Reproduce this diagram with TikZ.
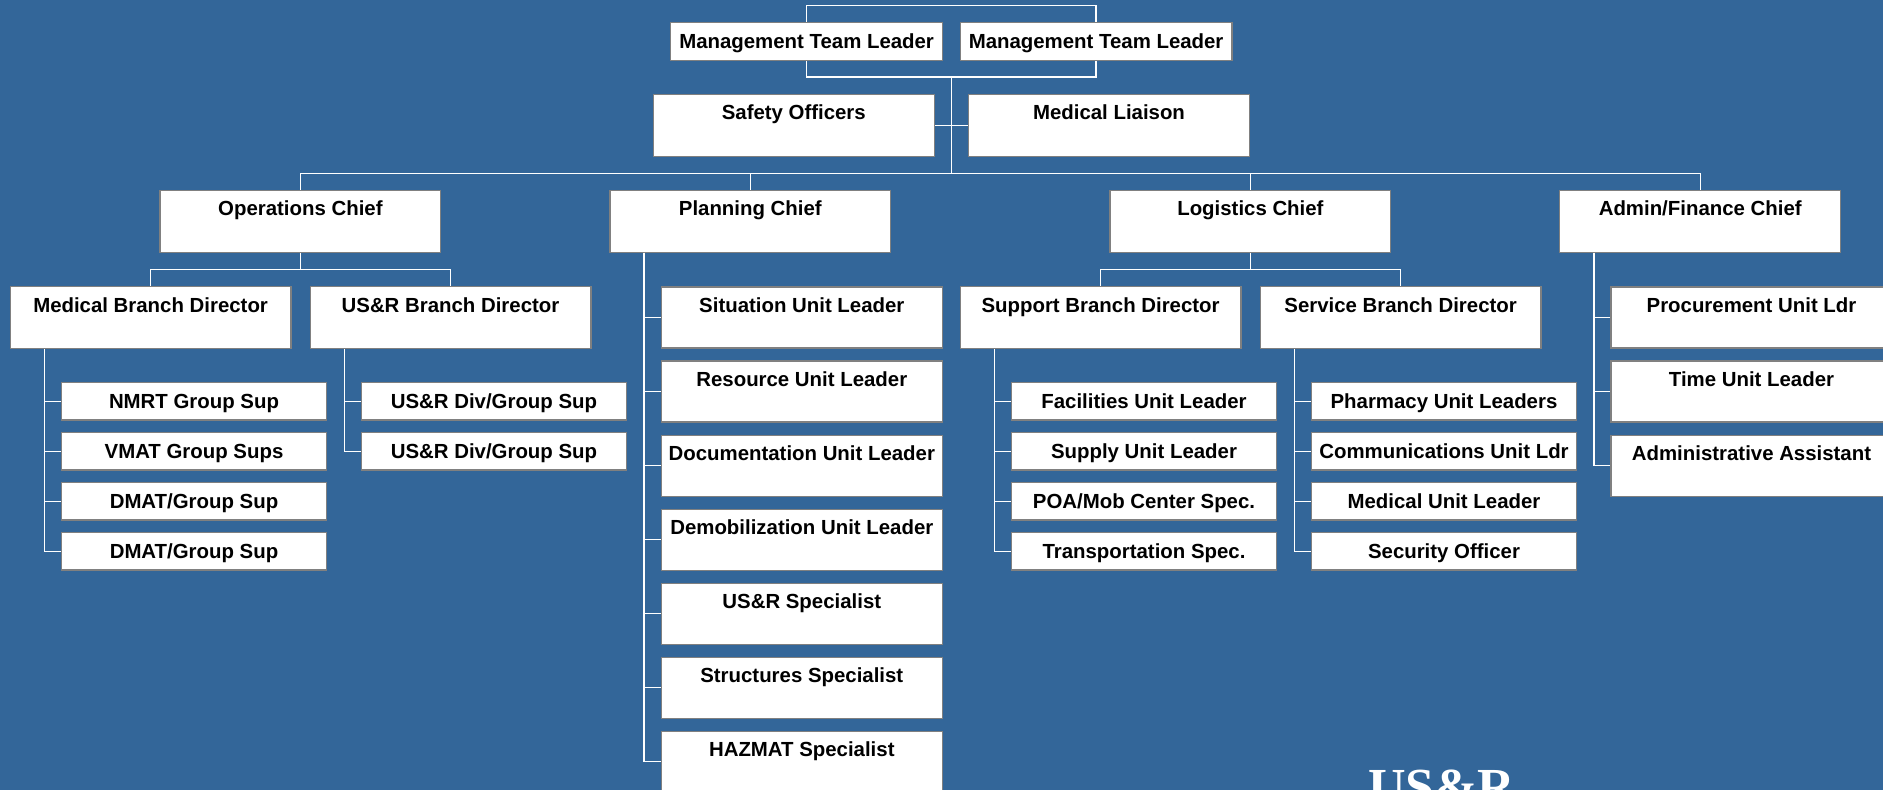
\documentclass[tikz,border=0pt]{standalone}
\usepackage{fontspec}
\setmainfont{Liberation Sans}
\newfontfamily\logofont{Liberation Serif}
\usepackage{tikz}
\definecolor{nen}{RGB}{51,102,153}
\definecolor{vien}{RGB}{128,128,128}
\tikzset{
  post/.style={draw=vien,fill=white,line width=1.2pt,inner sep=0pt,text height=25.6pt,
    font=\fontsize{20.4}{24}\selectfont\bfseries},
  leadbox/.style={post,minimum width=271.7pt,text depth=12pt},
  chiefbox/.style={post,minimum width=280.8pt,text depth=36.4pt},
  unitbox/.style={post,minimum width=265pt,text depth=11.9pt},
  staffbox/.style={post,minimum width=281pt,text depth=35.4pt},
  wire/.style={draw=white,line width=1.3pt}
}

\begin{document}
\begin{tikzpicture}[x=1pt,y=1pt]
	% Vẽ nền
	\useasboundingbox (0,0) rectangle (1883,-790);
	\fill[nen] (0,0) rectangle (1883,-790);
	\clip (0,0) rectangle (1883,-790);
	% Vẽ các ô trên cùng
	\node[leadbox] (mtl1) at (806.6,-41.5) {Management Team Leader};
	\node[leadbox] (mtl2) at (1096.1,-41.5) {Management Team Leader};
	\node[chiefbox] (safety) at (793.8,-125.2) {Safety Officers};
	\node[chiefbox] (liaison) at (1109,-125.2) {Medical Liaison};
	\coordinate (topbar) at (951.6,-5.3);
	\coordinate (midbar) at (951.6,-77);
	\coordinate (hub) at (951.6,-173.3);
	% Vẽ các trưởng ban
	\node[chiefbox] (ops) at (300.4,-221.2) {Operations Chief};
	\node[chiefbox] (plan) at (750.3,-221.2) {Planning Chief};
	\node[chiefbox] (logi) at (1250.4,-221.2) {Logistics Chief};
	\node[chiefbox] (admin) at (1700.2,-221.2) {Admin/Finance Chief};
	\node[chiefbox] (medbr) at (150.6,-317.7) {Medical Branch Director};
	\node[chiefbox] (usarbr) at (450.5,-317.7) {US\&R Branch Director};
	\node[chiefbox] (supbr) at (1100.6,-317.7) {Support Branch Director};
	\node[chiefbox] (serbr) at (1400.6,-317.7) {Service Branch Director};
	% Vẽ các đơn vị
	\foreach \t [count=\i] in {NMRT Group Sup,VMAT Group Sups,DMAT/Group Sup,DMAT/Group Sup}
	\node[unitbox] (med\i) at (194,{-401.3-50*(\i-1)}) {\t};
	\foreach \t [count=\i] in {US\&R Div/Group Sup,US\&R Div/Group Sup}
	\node[unitbox] (usar\i) at (494,{-401.3-50*(\i-1)}) {\t};
	\foreach \t [count=\i] in {Facilities Unit Leader,Supply Unit Leader,POA/Mob Center Spec.,Transportation Spec.}
	\node[unitbox] (sup\i) at (1144,{-401.3-50*(\i-1)}) {\t};
	\foreach \t [count=\i] in {Pharmacy Unit Leaders,Communications Unit Ldr,Medical Unit Leader,Security Officer}
	\node[unitbox] (ser\i) at (1444,{-401.3-50*(\i-1)}) {\t};
	\foreach \t [count=\i] in {Situation Unit Leader,Resource Unit Leader,Documentation Unit Leader,Demobilization Unit Leader,US\&R Specialist,Structures Specialist,HAZMAT Specialist}
	\node[staffbox] (plan\i) at (801.8,{-317.5-74.05*(\i-1)}) {\t};
	\foreach \t [count=\i] in {Procurement Unit Ldr,Time Unit Leader,Administrative Assistant}
	\node[staffbox] (adm\i) at (1751.5,{-317.5-74.05*(\i-1)}) {\t};
	% Vẽ đường nối
	\draw[wire] (mtl1.north) |- (topbar) -| (mtl2.north);
	\draw[wire] (mtl1.south) |- (midbar) -| (mtl2.south);
	\draw[wire] (midbar) -- (hub);
	\draw[wire] (safety.east) -- (liaison.west);
	\draw[wire] (ops.north) |- (hub) -| (admin.north);
	\draw[wire] (plan.north) -- (plan.north |- hub);
	\draw[wire] (logi.north) -- (logi.north |- hub);
	\draw[wire] (ops.south) -- ++(0,-17) coordinate (opsbar);
	\draw[wire] (medbr.north) |- (opsbar) -| (usarbr.north);
	\draw[wire] (logi.south) -- ++(0,-17) coordinate (logibar);
	\draw[wire] (supbr.north) |- (logibar) -| (serbr.north);
	\foreach \p/\c/\n in {medbr/med/4,usarbr/usar/2,supbr/sup/4,serbr/ser/4,plan/plan/7,admin/adm/3}
	\foreach \i in {1,...,\n}
	\draw[wire] ([xshift=34.7pt]\p.south west) |- (\c\i.west);
	% Chữ góc dưới
	\node[anchor=base west,inner sep=0pt,text=white,font=\logofont\bfseries\fontsize{52}{56}\selectfont] (logo) at (1368,-804) {US\&R};
\end{tikzpicture}
\end{document}
